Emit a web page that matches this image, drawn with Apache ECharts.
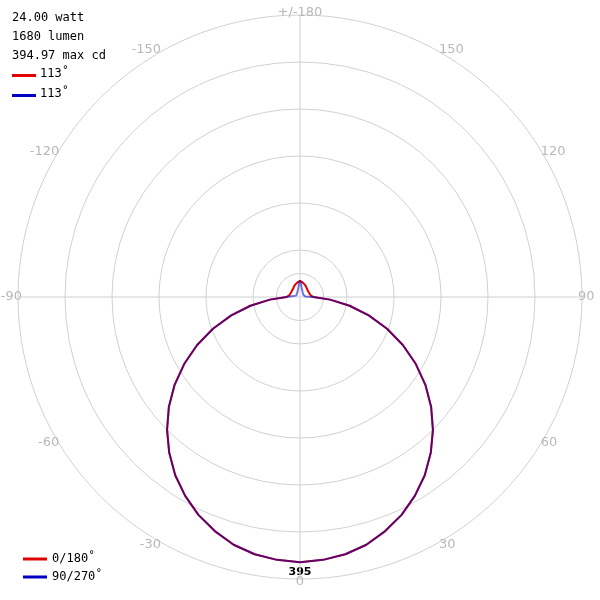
<!DOCTYPE html>
<html><head><meta charset="utf-8">
<script src="https://cdn.jsdelivr.net/npm/echarts@6/dist/echarts.min.js"></script>
<style>html,body{margin:0;padding:0;background:#fff}#c{width:600px;height:600px}</style>
</head><body><div id="c"></div>
<script>
var angles =   [0,  5,  10, 15, 20, 25, 30, 35, 40, 45, 50, 55, 60, 65, 70, 75, 80, 85, 90, 95, 100,110,120,130,140,150,160,170,175,180];
var redVals =  [395,393,389,382,371,358,342,324,303,280,255,228,199,169,138,106,75, 45, 20, 17, 16, 15, 15, 15, 16, 18, 20, 22, 23, 24];
var blueVals = [395,393,389,382,371,358,342,324,303,280,255,228,199,169,138,106,75, 45, 20, 8,  7,  6,  6,  6,  7,  8,  10, 14, 19, 24];
var ringAngles = [0,10,20,30,40,50,60,70,80,90,100,110,120,130,140,150,160,170,180,190,200,210,220,230,240,250,260,270,280,290,300,310,320,330,340,350,360];
var innerRing = 35;
var maxCd = '394.97';
var peakLabel = '395';

function loop(vals){
  var d=[];
  for(var i=0;i<angles.length;i++) d.push([vals[i],angles[i]]);
  for(var j=angles.length-2;j>=0;j--) d.push([vals[j],360-angles[j]]);
  return d;
}
var grid='#d0d0d0';
var chart=echarts.init(document.getElementById('c'));
chart.setOption({
  animation:false,
  polar:{center:[300,297],radius:282},
  angleAxis:{type:'value',min:0,max:360,interval:30,startAngle:270,clockwise:false,
    axisLine:{show:false},axisTick:{show:false},splitLine:{show:false},
    axisLabel:{color:'#b8b8b8',fontSize:13,fontFamily:'DejaVu Sans',margin:-4,
      formatter:function(v){if(v===360)return '';if(v===180)return '+/-180';return v>180?String(v-360):String(v);}}},
  radiusAxis:{type:'value',min:0,max:420,interval:70,axisLine:{show:false},axisTick:{show:false},axisLabel:{show:false},
    splitLine:{lineStyle:{color:grid,width:1}}},
  legend:{orient:'vertical',left:18,bottom:12,itemWidth:24,itemHeight:3,itemGap:6,icon:'rect',
    textStyle:{fontFamily:'DejaVu Sans Mono',fontSize:12,color:'#000'},data:['0/180˚','90/270˚']},
  graphic:[
    {type:'text',left:12,top:8,style:{text:'24.00 watt\n1680 lumen\n'+maxCd+' max cd',font:'12px "DejaVu Sans Mono"',lineHeight:19,fill:'#000'}},
    {type:'rect',shape:{x:12,y:74,width:24,height:3},style:{fill:'#e00000'}},
    {type:'text',left:40,top:68,style:{text:'113˚',font:'12px "DejaVu Sans Mono"',fill:'#000'}},
    {type:'rect',shape:{x:12,y:94,width:24,height:3},style:{fill:'#0000c0'}},
    {type:'text',left:40,top:88,style:{text:'113˚',font:'12px "DejaVu Sans Mono"',fill:'#000'}},
    {type:'text',x:300,y:567,style:{text:peakLabel,font:'bold 11px "DejaVu Sans"',fill:'#000',textAlign:'center'}}
  ],
  series:[
    {type:'line',coordinateSystem:'polar',symbol:'none',silent:true,lineStyle:{color:grid,width:1},data:[[420,0],[420,180]]},
    {type:'line',coordinateSystem:'polar',symbol:'none',silent:true,lineStyle:{color:grid,width:1},data:[[420,90],[420,270]]},
    {type:'line',coordinateSystem:'polar',symbol:'none',silent:true,lineStyle:{color:grid,width:1},data:ringAngles.map(function(a){return [innerRing,a];})},
    {name:'0/180˚',type:'line',coordinateSystem:'polar',symbol:'none',itemStyle:{color:'#e00000'},lineStyle:{color:'#e00000',width:2},data:loop(redVals)},
    {name:'90/270˚',type:'line',coordinateSystem:'polar',symbol:'none',itemStyle:{color:'#0000c0'},lineStyle:{color:'#0000c0',width:2,opacity:0.55},data:loop(blueVals)}
  ]
});
</script></body></html>
